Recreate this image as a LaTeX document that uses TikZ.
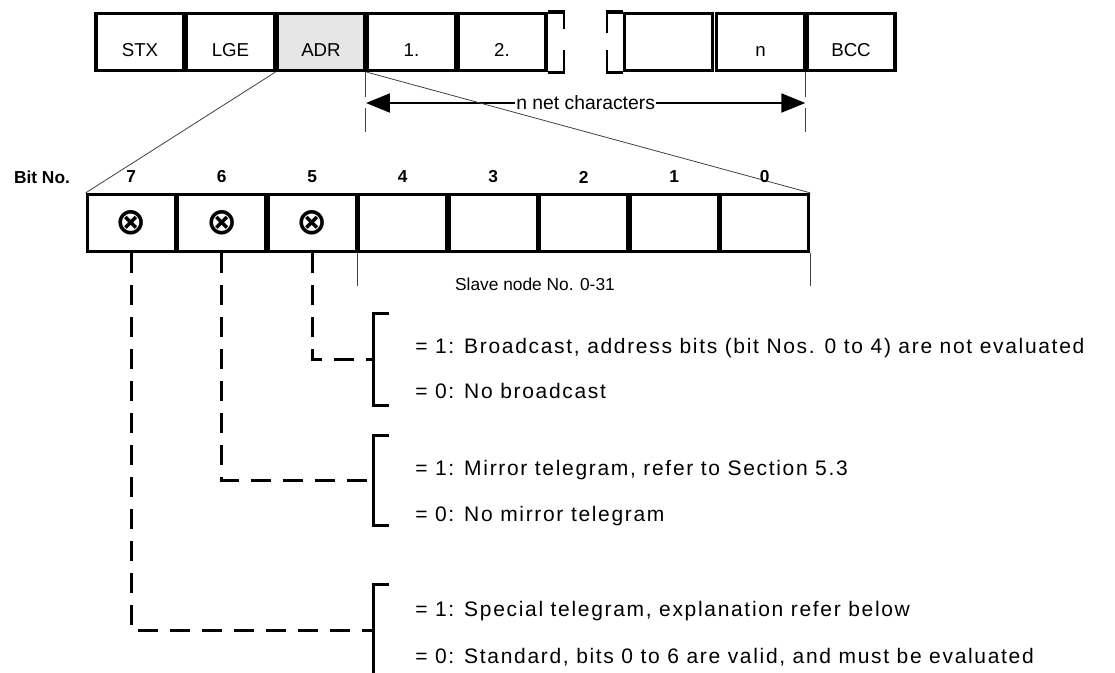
\documentclass[tikz,border=0pt]{standalone}
\usepackage{fontspec}
\setmainfont{Liberation Sans}
\newfontfamily\descfont[LetterSpace=8]{Liberation Sans}
\newfontfamily\flagfont{DejaVu Sans}
\definecolor{adrgray}{HTML}{E6E6E6}
\definecolor{linegray}{HTML}{404040}
\usetikzlibrary{arrows.meta}
\newcommand{\bitflag}{{\flagfont\bfseries\fontsize{28}{28}\selectfont ⊗}}

\begin{document}
\begin{tikzpicture}[x=0.75pt,y=-0.75pt,font=\fontsize{14}{16}\selectfont]
        \tikzset{
            fieldbox/.style={
                draw=black,
                fill=white,
                line width=2.4pt,
                minimum width=66pt,
                minimum height=42.75pt,
                inner sep=0pt
            },
            field/.style={fieldbox,text height=22pt,text depth=0pt},
            fieldno/.style={font=\bfseries\fontsize{13}{15}\selectfont},
            fielddesc/.style={anchor=base west,inner sep=0pt,font=\descfont\fontsize{15.75}{18}\selectfont},
            fieldedge/.style={draw=black,line width=2.4pt},
            fieldspan/.style={
                {Triangle[length=18pt,width=14pt]}-{Triangle[length=18pt,width=14pt]},
                draw=black,
                line width=2.2pt
            },
            fieldguide/.style={draw=linegray,line width=0.8pt,dash pattern=on 19pt off 8pt},
            fieldzoom/.style={draw=linegray,line width=0.6pt},
            fieldlink/.style={draw=black,line width=2.25pt,dash pattern=on 15pt off 9pt},
            fieldbrace/.style={draw=black,line width=2.25pt}
        }
        \useasboundingbox (0,0) rectangle (1115,672);

        % telegram frame
        \node[field] (stx) at (140,42) {STX};
        \node[field] (lge) at (230.5,42) {LGE};
        \node[field,fill=adrgray] (adr) at (321,42) {ADR};
        \node[field] (first) at (411.5,42) {1.};
        \node[field] (second) at (502,42) {2.};
        \node[field] (blank) at (668.5,42) {};
        \node[field] (last) at (760.5,42) {n};
        \node[field] (bcc) at (851,42) {BCC};

        \draw[fieldedge] (second.north east) -- ++(17,0);
        \draw[fieldedge] (second.south east) -- ++(17,0);
        \draw[fieldedge,line width=1.6pt] ([xshift=12pt]second.north east) -- ++(0,17);
        \draw[fieldedge,line width=1.6pt] ([xshift=12pt]second.south east) -- ++(0,-22);
        \draw[fieldedge] (blank.north west) -- ++(-17,0);
        \draw[fieldedge] (blank.south west) -- ++(-17,0);
        \draw[fieldedge,line width=1.6pt] ([xshift=-12pt]blank.north west) -- ++(0,21);
        \draw[fieldedge,line width=1.6pt] ([xshift=-12pt]blank.south west) -- ++(0,-22);

        \coordinate (spanrow) at (0,103);
        \draw[fieldguide] (first.south west) -- ++(0,60);
        \draw[fieldguide] (bcc.south west) -- ++(0,60);
        \draw[fieldspan] (first.south west |- spanrow) --
            node[fill=white,inner sep=1pt,font=\fontsize{14.5}{16}\selectfont] (spanlabel) {n net characters}
            (bcc.south west |- spanrow);

        % address byte
        \node[fieldbox] (b7) at (131.25,223) {\bitflag};
        \node[fieldbox] (b6) at (221.75,223) {\bitflag};
        \node[fieldbox] (b5) at (312.25,223) {\bitflag};
        \node[fieldbox] (b4) at (402.75,223) {};
        \node[fieldbox] (b3) at (493.25,223) {};
        \node[fieldbox] (b2) at (583.75,223) {};
        \node[fieldbox] (b1) at (674.25,223) {};
        \node[fieldbox] (b0) at (764.75,223) {};

        \draw[fieldzoom] (adr.south west) -- (b7.north west);
        \draw[fieldzoom] (adr.south east) -- (b0.north east);

        \node[fieldno] (bitno) at (42,177) {Bit No.};
        \node[fieldno] (no7) at (131.25,177) {7};
        \node[fieldno] (no6) at (221.75,177) {6};
        \node[fieldno] (no5) at (312.25,177) {5};
        \node[fieldno] (no4) at (402.75,177) {4};
        \node[fieldno] (no3) at (493.25,177) {3};
        \node[fieldno] (no2) at (583.75,177) {2};
        \node[fieldno] (no1) at (674.25,177) {1};
        \node[fieldno] (no0) at (764.75,177) {0};

        \draw[fieldzoom] (b4.south west) -- ++(0,33);
        \draw[fieldzoom] (b0.south east) -- ++(0,33);
        \node[font=\fontsize{13}{15}\selectfont] (slave) at (535,284) {Slave node No. 0-31};

        % meaning of bits 5, 6 and 7
        \coordinate (brfive) at (373,359);
        \coordinate (brsix) at (373,480);
        \coordinate (brseven) at (373,630);

        \draw[fieldlink] (b5.south) |- (brfive);
        \draw[fieldlink] (b6.south) |- (brsix);
        \draw[fieldlink] (b7.south) |- (brseven);

        \draw[fieldbrace] (brfive) ++(16,-46) -- ++(-16,0) -- ++(0,92) -- ++(16,0);
        \draw[fieldbrace] (brsix) ++(16,-45) -- ++(-16,0) -- ++(0,90) -- ++(16,0);
        \draw[fieldbrace] (brseven) ++(16,-46) -- ++(-16,0) -- ++(0,94) -- ++(16,0);

        \node[fielddesc] (fiveset) at (415,353)
            {= 1: Broadcast, address bits (bit Nos. 0 to 4) are not evaluated};
        \node[fielddesc] (fiveclr) at (415,398) {= 0: No broadcast};
        \node[fielddesc] (sixset) at (415,475)
            {= 1: Mirror telegram, refer to Section 5.3};
        \node[fielddesc] (sixclr) at (415,521) {= 0: No mirror telegram};
        \node[fielddesc] (sevenset) at (415,616)
            {= 1: Special telegram, explanation refer below};
        \node[fielddesc] (sevenclr) at (415,663)
            {= 0: Standard, bits 0 to 6 are valid, and must be evaluated};
    \end{tikzpicture}
\end{document}
